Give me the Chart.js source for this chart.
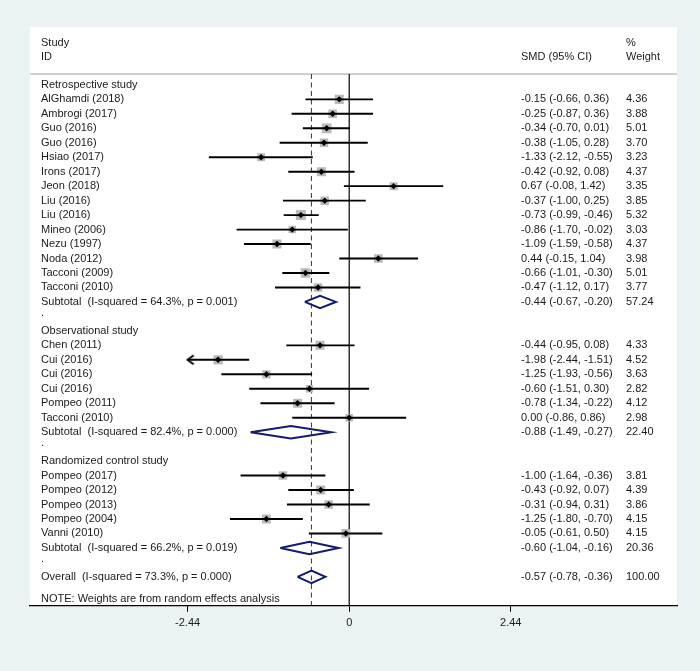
<!DOCTYPE html>
<html>
<head>
<meta charset="utf-8">
<script src="https://cdn.jsdelivr.net/npm/chart.js@4.4.0/dist/chart.umd.min.js"></script>
<style>
    html, body { margin: 0; padding: 0; background: rgb(234, 242, 243); }
    canvas { display: block; }
</style>
</head>
<body>
<canvas id="forestChart" width="700" height="671"></canvas>
<script>
const groupNames = ['Retrospective study', 'Observational study', 'Randomized control study'];

const studyNames = [
    'AlGhamdi (2018)', 'Ambrogi (2017)', 'Guo (2016)', 'Guo (2016)', 'Hsiao (2017)',
    'Irons (2017)', 'Jeon (2018)', 'Liu (2016)', 'Liu (2016)', 'Mineo (2006)',
    'Nezu (1997)', 'Noda (2012)', 'Tacconi (2009)', 'Tacconi (2010)',
    'Chen (2011)', 'Cui (2016)', 'Cui (2016)', 'Cui (2016)', 'Pompeo (2011)', 'Tacconi (2010)',
    'Pompeo (2017)', 'Pompeo (2012)', 'Pompeo (2013)', 'Pompeo (2004)', 'Vanni (2010)'
];
const studyGroups = [0, 0, 0, 0, 0, 0, 0, 0, 0, 0, 0, 0, 0, 0, 1, 1, 1, 1, 1, 1, 2, 2, 2, 2, 2];
const studySmd = [-0.15, -0.25, -0.34, -0.38, -1.33, -0.42, 0.67, -0.37, -0.73, -0.86, -1.09, 0.44, -0.66, -0.47,
    -0.44, -1.98, -1.25, -0.60, -0.78, 0.00,
    -1.00, -0.43, -0.31, -1.25, -0.05];
const studyLow = [-0.66, -0.87, -0.70, -1.05, -2.12, -0.92, -0.08, -1.00, -0.99, -1.70, -1.59, -0.15, -1.01, -1.12,
    -0.95, -2.44, -1.93, -1.51, -1.34, -0.86,
    -1.64, -0.92, -0.94, -1.80, -0.61];
const studyHigh = [0.36, 0.36, 0.01, 0.28, -0.55, 0.08, 1.42, 0.25, -0.46, -0.02, -0.58, 1.04, -0.30, 0.17,
    0.08, -1.51, -0.56, 0.30, -0.22, 0.86,
    -0.36, 0.07, 0.31, -0.70, 0.50];
const studyWeight = [4.36, 3.88, 5.01, 3.70, 3.23, 4.37, 3.35, 3.85, 5.32, 3.03, 4.37, 3.98, 5.01, 3.77,
    4.33, 4.52, 3.63, 2.82, 4.12, 2.98,
    3.81, 4.39, 3.86, 4.15, 4.15];

const subtotalI2 = ['64.3%', '82.4%', '66.2%'];
const subtotalP = ['0.001', '0.000', '0.019'];
const subtotalSmd = [-0.44, -0.88, -0.60];
const subtotalLow = [-0.67, -1.49, -1.04];
const subtotalHigh = [-0.20, -0.27, -0.16];
const subtotalWeight = [57.24, 22.40, 20.36];

const overallI2 = '73.3%';
const overallP = '0.000';
const overallSmd = -0.57;
const overallLow = -0.78;
const overallHigh = -0.36;
const overallWeight = 100.00;

const xTicks = [-2.44, 0, 2.44];
const noteText = 'NOTE: Weights are from random effects analysis';

const fmt = v => v.toFixed(2);
const xLimit = xTicks[xTicks.length - 1];

// lay the rows out top to bottom
const studies = [];
const pooled = [];
const labelRows = [];
let r = 0;
groupNames.forEach((g, gi) => {
    labelRows.push({row: r++, label: g});
    studyNames.forEach((name, i) => {
        if (studyGroups[i] !== gi) return;
        const s = {row: r++, label: name, est: studySmd[i], lo: studyLow[i], hi: studyHigh[i], w: studyWeight[i]};
        studies.push(s);
        labelRows.push(s);
    });
    const p = {
        row: r++, label: `Subtotal  (I-squared = ${subtotalI2[gi]}, p = ${subtotalP[gi]})`,
        est: subtotalSmd[gi], lo: subtotalLow[gi], hi: subtotalHigh[gi], w: subtotalWeight[gi]
    };
    pooled.push(p);
    labelRows.push(p);
    labelRows.push({row: r++, label: '.', dot: true});
});
const overall = {
    row: r++, label: `Overall  (I-squared = ${overallI2}, p = ${overallP})`,
    est: overallSmd, lo: overallLow, hi: overallHigh, w: overallWeight
};
pooled.push(overall);
labelRows.push(overall);
const noteRow = r + 0.5;
const headerLineRow = -0.75;
const yBottom = 36;

// open chevron used for CIs running off the axis
function makeArrow() {
    const c = document.createElement('canvas');
    c.width = 16;
    c.height = 12;
    const g = c.getContext('2d');
    g.strokeStyle = '#000';
    g.lineWidth = 2;
    g.beginPath();
    g.moveTo(14, 1.5);
    g.lineTo(8, 6);
    g.lineTo(14, 10.5);
    g.stroke();
    return c;
}
const arrowImg = makeArrow();

const markerSet = {
    type: 'scatter',
    data: studies.map(s => ({x: s.est, y: s.row})),
    pointStyle: 'rectRot',
    pointRadius: 3.2,
    backgroundColor: '#000',
    borderWidth: 0
};

const arrowSet = {
    type: 'scatter',
    data: studies.filter(s => s.lo <= -xLimit).map(s => ({x: -xLimit, y: s.row})),
    pointStyle: arrowImg,
    pointRadius: 6
};

const ciSets = studies.map(s => ({
    type: 'line',
    data: [{x: Math.max(s.lo, -xLimit), y: s.row}, {x: Math.min(s.hi, xLimit), y: s.row}],
    borderColor: '#000',
    borderWidth: 1.9,
    pointRadius: 0,
    fill: false
}));

const boxSet = {
    type: 'scatter',
    data: studies.map(s => ({x: s.est, y: s.row})),
    pointStyle: 'rect',
    pointRadius: ctx => 3.07 * Math.sqrt(studies[ctx.dataIndex].w),
    backgroundColor: '#bababa',
    borderWidth: 0
};

const diamondSets = pooled.map(p => ({
    type: 'line',
    data: [
        {x: p.lo, y: p.row}, {x: p.est, y: p.row - 0.43}, {x: p.hi, y: p.row},
        {x: p.est, y: p.row + 0.43}, {x: p.lo, y: p.row}
    ],
    borderColor: '#141a6e',
    borderWidth: 2,
    pointRadius: 0,
    fill: false,
    tension: 0
}));

const zeroSet = {
    type: 'line',
    data: [{x: 0, y: headerLineRow}, {x: 0, y: yBottom}],
    borderColor: '#000',
    borderWidth: 1.2,
    pointRadius: 0
};

const overallLineSet = {
    type: 'line',
    data: [{x: overallSmd, y: headerLineRow}, {x: overallSmd, y: yBottom}],
    borderColor: '#9a2030',
    borderWidth: 1.1,
    borderDash: [5, 3.5],
    pointRadius: 0
};

const forestText = {
    id: 'forestText',
    beforeDraw(chart) {
        const {ctx, chartArea} = chart;
        ctx.save();
        ctx.fillStyle = '#ffffff';
        ctx.fillRect(chartArea.left, chartArea.top, chartArea.right - chartArea.left, chartArea.bottom - chartArea.top);
        const y = chart.scales.y.getPixelForValue(headerLineRow);
        ctx.strokeStyle = '#cfcfcf';
        ctx.lineWidth = 2;
        ctx.beginPath();
        ctx.moveTo(chartArea.left, y);
        ctx.lineTo(chartArea.right, y);
        ctx.stroke();
        ctx.restore();
    },
    afterDatasetsDraw(chart) {
        const {ctx} = chart;
        const yScale = chart.scales.y;
        const colLabel = 41, colSmd = 521, colWeight = 626;
        ctx.save();
        ctx.font = '11px "Liberation Sans", Arial, sans-serif';
        ctx.fillStyle = '#1a1a1a';
        ctx.textBaseline = 'middle';
        ctx.textAlign = 'left';
        const put = (text, x, row) => ctx.fillText(text, x, yScale.getPixelForValue(row));

        put('Study', colLabel, -2.9);
        put('ID', colLabel, -1.95);
        put('SMD (95% CI)', colSmd, -1.95);
        put('%', colWeight, -2.9);
        put('Weight', colWeight, -1.95);

        labelRows.forEach(item => {
            put(item.label, colLabel, item.dot ? item.row - 0.25 : item.row);
            if (item.est !== undefined) {
                put(`${fmt(item.est)} (${fmt(item.lo)}, ${fmt(item.hi)})`, colSmd, item.row);
                put(fmt(item.w), colWeight, item.row);
            }
        });
        put(noteText, colLabel, noteRow);
        ctx.restore();
    }
};

Chart.defaults.font.family = '"Liberation Sans", Arial, sans-serif';
Chart.defaults.font.size = 11;
Chart.defaults.color = '#1a1a1a';

new Chart(document.getElementById('forestChart'), {
    type: 'scatter',
    data: {
        datasets: [markerSet, arrowSet, ...ciSets, boxSet, ...diamondSets, overallLineSet, zeroSet]
    },
    options: {
        responsive: false,
        animation: false,
        devicePixelRatio: 1,
        layout: {
            padding: {left: 30, right: 23, top: 27, bottom: 36}
        },
        scales: {
            x: {
                type: 'linear',
                min: -4.82,
                max: 4.95,
                afterBuildTicks: scale => {
                    scale.ticks = xTicks.map(v => ({value: v}));
                },
                ticks: {
                    autoSkip: false,
                    maxRotation: 0,
                    padding: 5,
                    color: '#1a1a1a',
                    callback: v => (v === 0 ? '0' : fmt(v))
                },
                grid: {
                    drawOnChartArea: false,
                    drawTicks: true,
                    tickLength: 6,
                    color: '#000'
                },
                border: {
                    display: true,
                    color: '#000',
                    width: 1.2
                }
            },
            y: {
                type: 'linear',
                display: false,
                reverse: true,
                min: -4,
                max: yBottom
            }
        },
        plugins: {
            legend: {display: false},
            tooltip: {enabled: false}
        }
    },
    plugins: [forestText]
});
</script>
</body>
</html>
